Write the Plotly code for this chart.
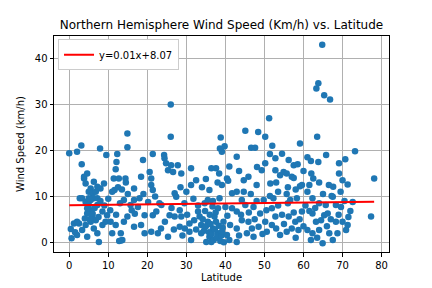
import numpy as np
import plotly.graph_objects as go

latitude = [
    64.8, 63.8, 63.3, 65.3, 66.8, 51.2, 26.0, 45.1, 48.4, 50.2, 63.5, 26.0, 14.9, 38.8, 59.1, 39.8, 38.6,
    46.6, 47.6, 14.9, 3.1, 7.9, 73.2, 2.0, 0.0, 9.5, 12.3, 21.4, 24.3, 51.4, 54.5, 65.8, 42.9, 39.1,
    3.2, 12.1, 11.9, 3.8, 4.2, 6.3, 7.2, 5.5, 5.0, 5.9, 6.8, 8.0, 8.9, 11.4, 12.7, 14.4, 11.6, 16.6, 4.6, 3.8,
    18.9, 18.4, 20.6, 21.0, 21.0, 21.4, 24.4, 24.8, 25.3, 26.1, 26.6, 27.8, 28.7, 31.2, 31.2, 36.4, 37.6, 38.4,
    35.9, 27.0, 27.4,
    52.8, 56.2, 57.5, 48.1, 50.2, 52.8, 54.0, 54.9, 57.0, 59.6, 40.4, 39.1, 45.9, 44.7, 51.5, 42.9, 44.7, 41.7,
    40.7, 49.3,
    61.9, 69.1, 70.7, 69.1, 62.5, 61.5, 67.6, 71.3, 78.1, 61.0, 55.7, 57.5, 59.1, 55.7, 67.2, 51.4,
    16.6, 15.7, 14.0, 3.3, 4.2, 5.0, 5.5, 4.6, 5.9, 6.8, 5.5, 4.2, 3.3, 2.0, 0.4, 1.2, 2.5, 6.3, 7.2, 7.6, 4.6,
    8.5, 9.3, 10.6, 11.9, 11.0, 13.2, 13.6, 14.0, 14.9, 16.6, 8.5, 9.7, 6.3, 7.2, 5.0, 7.2, 5.5, 4.6, 2.7, 2.0,
    6.0, 6.5, 7.5, 5.2, 4.0, 8.0, 9.0, 10.5, 12.0, 13.0, 15.0, 16.0, 12.5, 11.0, 13.5, 14.5, 10.0, 1.5, 0.6,
    12.8, 13.3, 16.8,
    18.0, 17.6, 19.3, 18.4, 19.3, 21.4, 22.3, 23.1, 23.6, 21.0, 22.7, 25.3, 25.7, 27.0, 28.3, 28.7, 28.3, 29.6,
    30.8, 30.8, 31.2, 33.0, 33.4, 33.8, 33.8, 34.7, 35.5, 35.1, 35.9, 36.8, 35.5, 37.2, 38.1, 37.6, 38.1, 36.4,
    38.5,
    34.5, 35.0, 35.8, 36.2, 36.5, 37.0, 37.3, 37.8, 38.3, 38.7, 39.0, 39.3, 39.6, 37.5, 36.0, 34.2, 34.8, 36.7,
    32.0, 32.5, 29.5, 30.2, 31.8, 26.2, 24.5, 23.5, 20.2, 19.0, 22.0, 26.8, 29.0, 33.0, 30.0, 28.5, 34.0, 32.5,
    36.8, 38.0, 35.0,
    52.3, 49.8, 56.6, 58.3, 40.0, 41.7, 42.9, 45.1, 47.2, 48.9, 51.9, 52.8, 56.2, 57.9, 59.6, 39.5, 41.2, 42.9,
    44.2, 45.9, 46.8, 48.5, 50.2, 51.9, 50.6, 54.0, 55.7, 57.0, 58.7, 40.4, 42.9, 45.5, 47.2, 39.1, 44.2,
    40.5, 41.0, 43.5, 44.0, 46.0, 47.5, 48.0, 49.5, 50.5, 53.0, 53.5, 54.5, 55.0, 56.0, 57.5, 58.0, 59.0, 60.0,
    60.5, 53.5, 58.0, 46.5, 48.0, 43.5, 41.0, 56.0, 60.0, 58.5, 52.0, 53.0,
    62.3, 67.5, 64.0, 65.7, 68.3, 69.6, 72.6, 62.3, 65.3, 66.2, 64.5, 63.2, 68.3, 70.0, 71.3, 70.9, 77.3, 61.0,
    61.9, 64.9, 67.5, 66.6, 68.7, 62.3, 64.0,
    63.0, 66.0, 67.0, 69.0, 70.5, 71.5, 63.5, 65.0, 66.5, 69.5, 62.0, 64.0, 61.5, 72.0, 63.8, 61.0, 70.0,
]

wind_speed = [
    43.0, 34.6, 33.5, 32.0, 31.1, 27.0, 30.0, 24.3, 24.0, 23.0, 23.0, 23.0, 23.7, 22.8, 21.5, 20.9, 20.4,
    20.6, 20.6, 20.7, 21.1, 20.4, 19.8, 19.7, 19.4, 19.0, 19.2, 19.2, 19.0, 19.2, 19.3, 19.0, 18.6, 19.7,
    17.0, 17.5, 15.9, 13.9, 12.8, 13.2, 12.1, 11.7, 11.0, 10.7, 11.0, 11.7, 12.8, 13.9, 13.9, 13.9, 11.4, 11.7,
    15.0, 14.3,
    17.9, 14.3, 15.3, 13.9, 12.5, 11.4, 18.3, 17.2, 15.7, 16.8, 15.3, 16.8, 15.0, 16.1, 12.5, 16.1, 16.1, 15.0,
    11.4, 10.7, 9.9,
    18.3, 17.9, 16.8, 16.4, 17.2, 15.7, 14.6, 15.3, 14.3, 12.5, 13.9, 12.5, 14.3, 13.5, 12.8, 11.0, 11.0, 10.7,
    13.4, 15.7,
    17.7, 17.2, 18.1, 15.0, 13.9, 12.5, 12.1, 12.6, 13.9, 11.0, 15.0, 14.0, 12.2, 10.5, 10.1, 10.1,
    9.2, 8.1, 9.2, 9.6, 8.8, 8.1, 7.0, 6.3, 5.6, 4.8, 4.5, 3.8, 2.7, 1.6, 2.9, 4.1, 4.1, 3.0, 2.0, 0.1, 1.2,
    3.8, 4.5, 4.5, 3.8, 2.0, 2.0, 0.5, 4.5, 5.6, 3.4, 6.7, 5.9, 9.6, 9.6, 9.6, 8.1, 9.2, 7.4, 9.6, 4.5,
    6.2, 7.5, 5.5, 5.0, 5.2, 9.0, 8.0, 7.0, 6.0, 8.5, 10.5, 7.0, 12.0, 11.0, 11.5, 13.0, 9.5, 2.2, 0.9,
    0.3, 0.4, 6.2,
    9.6, 7.7, 5.9, 3.8, 2.0, 5.9, 6.7, 8.5, 8.1, 2.3, 2.0, 1.2, 5.9, 5.6, 7.0, 5.6, 3.4, 3.0,
    4.1, 2.3, 0.5, 6.7, 5.6, 3.8, 2.0, 8.5, 9.2, 0.1, 1.2, 3.0, 4.5, 5.6, 7.4, 4.5, 2.0, 0.1,
    9.6,
    2.5, 3.5, 2.2, 4.0, 1.8, 0.5, 2.8, 1.0, 3.6, 0.3, 1.5, 3.2, 0.0, 6.5, 6.0, 5.0, 6.8, 7.8,
    4.8, 2.8, 8.5, 6.0, 9.5, 7.5, 4.5, 3.0, 8.8, 10.5, 10.0, 2.8, 1.5, 8.0, 11.0, 12.0, 12.0, 13.5,
    9.0, 13.0, 13.8,
    9.6, 9.2, 9.2, 9.6, 7.7, 7.4, 6.7, 8.1, 7.7, 6.3, 7.4, 5.6, 5.6, 4.5, 6.7, 4.5, 3.8, 3.0,
    4.8, 4.5, 3.0, 3.4, 4.5, 3.8, 2.3, 1.6, 2.3, 3.0, 2.7, 1.6, 0.1, 2.0, 1.2, 2.3, 9.2,
    5.8, 0.5, 1.5, 6.0, 6.5, 5.0, 9.0, 1.8, 7.0, 3.0, 8.0, 6.0, 4.0, 8.5, 6.5, 1.0, 5.0, 3.5,
    8.0, 11.0, 11.5, 10.5, 12.5, 15.5, 16.5, 12.0, 15.5, 17.0, 21.0, 13.0,
    9.6, 9.9, 8.5, 8.1, 8.1, 7.7, 8.8, 6.3, 5.9, 6.3, 4.8, 4.5, 4.5, 4.5, 3.8, 2.7, 5.6, 2.7,
    0.5, -0.2, 0.5, 2.0, 2.0, 2.0, 2.7,
    7.5, 3.5, 5.0, 6.0, 9.0, 5.5, 1.0, 10.5, 12.5, 11.0, 15.0, 13.0, 6.8, 6.8, 17.5, 18.5, 13.5,
]

slope = 0.01
intercept = 8.07
title_text = "Northern Hemisphere Wind Speed (Km/h) vs. Latitude"
x_label = "Latitude"
y_label = "Wind Speed (km/h)"
x_ticks = [0, 10, 20, 30, 40, 50, 60, 70, 80]
y_ticks = [0, 10, 20, 30, 40]

lat = np.array(latitude)
ws = np.array(wind_speed)
line_x = np.array([lat.min(), lat.max()])
line_y = slope * line_x + intercept

fig = go.Figure()
fig.add_trace(go.Scatter(
    x=lat, y=ws, mode="markers",
    marker=dict(color="#1f77b4", size=6.5, line=dict(width=0)),
    showlegend=False, hoverinfo="skip",
))
fig.add_trace(go.Scatter(
    x=line_x, y=line_y, mode="lines",
    line=dict(color="red", width=2),
    name=f"y={slope}x+{intercept}",
))

font_family = "DejaVu Sans"
axis_common = dict(
    showgrid=True, gridcolor="#b0b0b0", gridwidth=0.8,
    ticks="outside", ticklen=3.5, tickwidth=0.8, tickcolor="black",
    showline=True, linecolor="black", linewidth=1, mirror=True,
    zeroline=False, automargin=False,
    tickfont=dict(family=font_family, size=10, color="black"),
)

fig.update_layout(
    width=432, height=288,
    margin=dict(l=54, r=43, t=36, b=36),
    paper_bgcolor="white", plot_bgcolor="white",
    font=dict(family=font_family, size=10, color="black"),
    title=dict(text=title_text, x=0.5, xanchor="center", xref="paper",
               y=1 - 25 / 288, yref="container", yanchor="middle",
               font=dict(family=font_family, size=12, color="black")),
    xaxis=dict(range=[-3.9, 81.9], tickvals=x_ticks,
               title=dict(text=x_label, standoff=4, font=dict(size=10)), **axis_common),
    yaxis=dict(range=[-2.1, 44.9], tickvals=y_ticks,
               title=dict(text=y_label, standoff=8, font=dict(size=10)), **axis_common),
    legend=dict(x=0.012, y=0.985, xanchor="left", yanchor="top",
                bgcolor="white", bordercolor="#cccccc", borderwidth=1,
                font=dict(family=font_family, size=10), itemwidth=30,
                tracegroupgap=0),
)

fig.write_html("out.html")
